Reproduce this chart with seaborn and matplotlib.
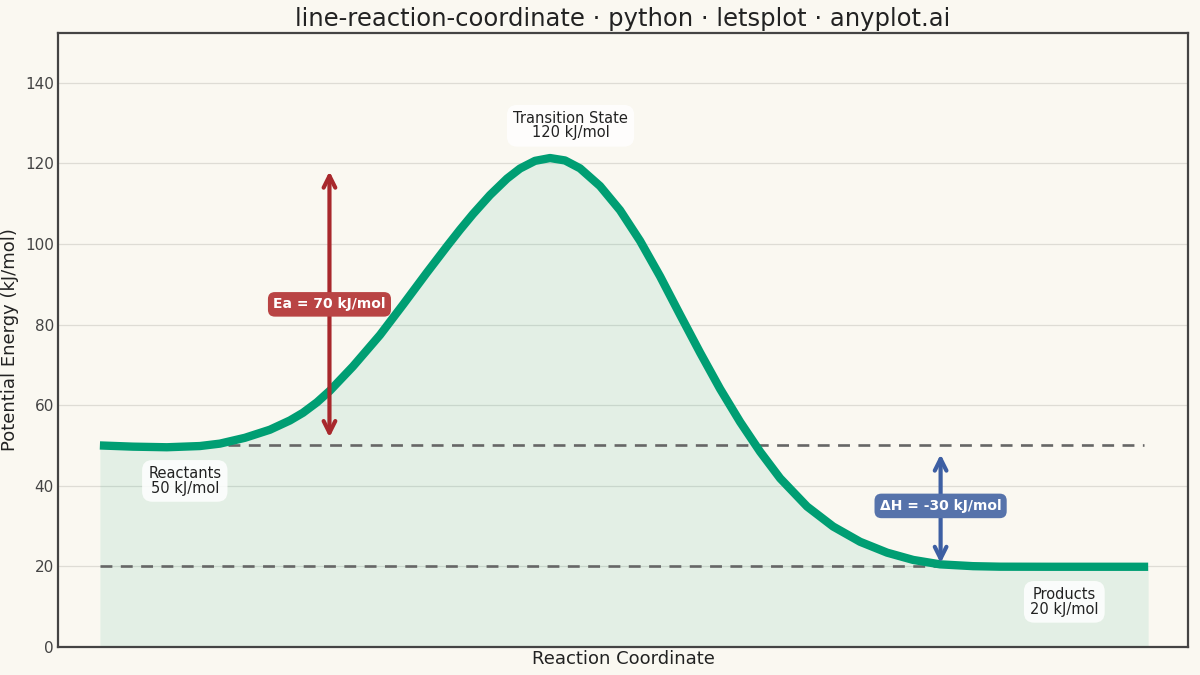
import matplotlib
matplotlib.use("Agg")
import matplotlib.pyplot as plt
import seaborn as sns
import pandas as pd

# ---- data ----
coord = [0.0000, 0.0315, 0.0639, 0.0954, 0.1145, 0.1384, 0.1622, 0.1813, 0.1937, 0.2071,
         0.2195, 0.2414, 0.2672, 0.2891, 0.3120, 0.3311, 0.3435, 0.3559, 0.3721, 0.3884,
         0.4008, 0.4151, 0.4294, 0.4437, 0.4580, 0.4771, 0.4962, 0.5153, 0.5344, 0.5534,
         0.5725, 0.5916, 0.6107, 0.6298, 0.6489, 0.6746, 0.6994, 0.7252, 0.7510, 0.7758,
         0.8015, 0.8330, 0.8588, 0.9065, 0.9542, 1.0000]
energy = [50.0, 49.7, 49.55, 49.85, 50.45, 51.9, 53.9, 56.2, 58.1, 60.7,
          63.6, 69.6, 77.4, 84.9, 92.9, 99.4, 103.5, 107.4, 112.1, 116.2,
          118.7, 120.6, 121.3, 120.7, 118.75, 114.35, 108.35, 100.75, 91.95, 82.45,
          73.05, 64.05, 55.85, 48.45, 41.85, 34.85, 29.9, 26.1, 23.4, 21.6,
          20.5, 20.05, 19.92, 19.9, 19.9, 19.9]

reactant_E = 50
ts_E = 120
product_E = 20
y_ticks = [0, 20, 40, 60, 80, 100, 120, 140]

labels = ["Reactants\n50 kJ/mol", "Transition State\n120 kJ/mol", "Products\n20 kJ/mol"]
label_x = [0.081, 0.449, 0.920]
label_y = [41.2, 129.3, 11.2]

df = pd.DataFrame({"coord": coord, "energy": energy})

sns.set_theme(style="white")
plt.rcParams["font.family"] = ["DejaVu Sans"]

bg = "#FAF8F1"
fig = plt.figure(figsize=(12, 6.75), dpi=100, facecolor=bg)
ax = fig.add_axes([0.0483, 0.0415, 0.9417, 0.9095])
ax.set_facecolor(bg)

green = "#009E73"
ax.fill_between(df["coord"], 0, df["energy"], color=green, alpha=0.09, lw=0, zorder=1)

# dashed reference levels
ax.plot([0.122, 0.996], [reactant_E, reactant_E], ls=(0, (4.5, 3.2)), color="#666666", lw=1.9, zorder=2)
ax.plot([0.0, 0.802], [product_E, product_E], ls=(0, (4.5, 3.2)), color="#666666", lw=1.9, zorder=2)

sns.lineplot(data=df, x="coord", y="energy", ax=ax, color=green, lw=6, zorder=3,
             solid_capstyle="butt", solid_joinstyle="round")

# Ea arrow
red = "#A8282C"
ax.annotate("", xy=(0.219, 118.0), xytext=(0.219, 52.0),
            arrowprops=dict(arrowstyle="<->,head_length=0.7,head_width=0.35",
                            color=red, lw=3, shrinkA=0, shrinkB=0), zorder=4)
ax.text(0.219, 85, "Ea = 70 kJ/mol", ha="center", va="center", fontsize=10,
        fontweight="bold", color="white", zorder=5,
        bbox=dict(boxstyle="round,pad=0.38,rounding_size=0.5", fc="#B94444", ec="none"))

# ΔH arrow
blue = "#3D5FA3"
ax.annotate("", xy=(0.802, 47.8), xytext=(0.802, 20.8),
            arrowprops=dict(arrowstyle="<->,head_length=0.7,head_width=0.35",
                            color=blue, lw=3, shrinkA=0, shrinkB=0), zorder=4)
ax.text(0.802, 35, "ΔH = -30 kJ/mol", ha="center", va="center", fontsize=10,
        fontweight="bold", color="white", zorder=5,
        bbox=dict(boxstyle="round,pad=0.38,rounding_size=0.5", fc="#5673AB", ec="none"))

for t, lx, ly in zip(labels, label_x, label_y):
    ax.text(lx, ly, t, ha="center", va="center", fontsize=10.5, color="#222222",
            linespacing=0.95, zorder=5,
            bbox=dict(boxstyle="round,pad=0.42,rounding_size=0.7", fc="white", ec="none", alpha=0.85))

ax.set_xlim(-0.040, 1.038)
ax.set_ylim(0, 152.3)
ax.set_yticks(y_ticks)
ax.set_yticklabels([str(v) for v in y_ticks], fontsize=11, color="#444444")
ax.set_xticks([])
ax.tick_params(axis="y", length=0, pad=3)
ax.grid(axis="y", color="#DEDCD5", lw=0.9, zorder=0)
ax.set_axisbelow(True)
for s in ax.spines.values():
    s.set_color("#444444")
    s.set_linewidth(1.6)

ax.set_xlabel("Reaction Coordinate", fontsize=13, color="#222222", labelpad=2)
ax.set_ylabel("Potential Energy (kJ/mol)", fontsize=13, color="#222222", labelpad=4)
ax.set_title("line-reaction-coordinate · python · letsplot · anyplot.ai",
             fontsize=17.5, color="#222222", pad=5)

fig.savefig("out.png", dpi=100, facecolor=bg)
